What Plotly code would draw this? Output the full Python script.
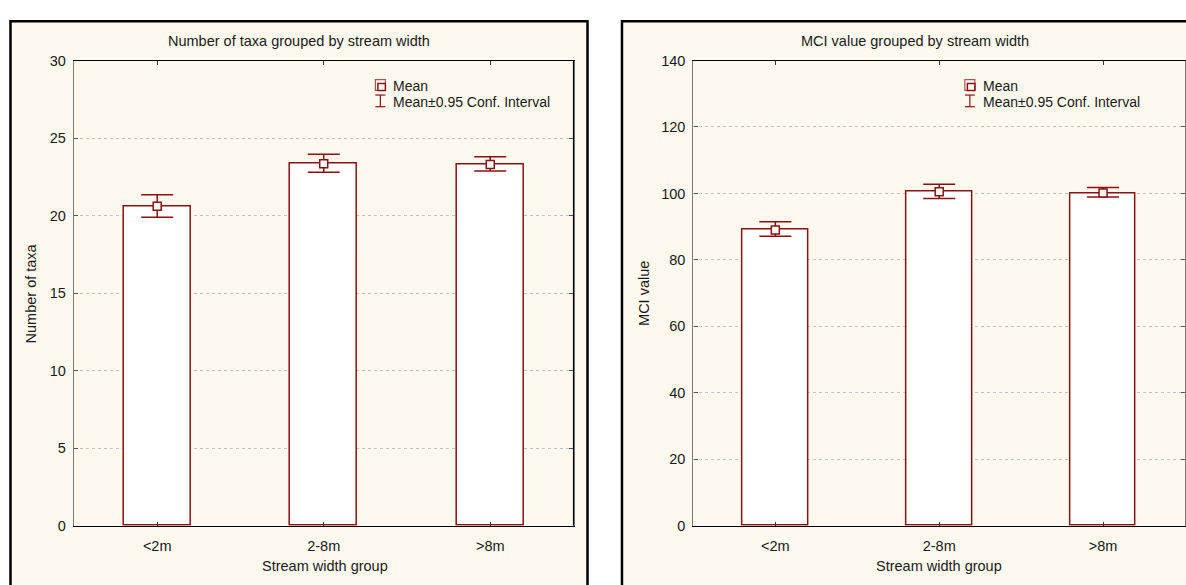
import plotly.graph_objects as go

# ---- data ----
categories = ["<2m", "2-8m", ">8m"]

taxa_mean = [20.6, 23.35, 23.3]
taxa_ci_low = [19.9, 22.8, 22.87]
taxa_ci_high = [21.35, 23.95, 23.8]

mci_mean = [89.0, 100.5, 100.1]
mci_ci_low = [87.1, 98.5, 98.9]
mci_ci_high = [91.5, 102.8, 101.8]

taxa_ticks = [0, 5, 10, 15, 20, 25, 30]
mci_ticks = [0, 20, 40, 60, 80, 100, 120, 140]

# ---- style ----
W, H = 1186, 585
MAROON = "#8b1111"
CREAM = "#fdf9ee"
FONT = "Liberation Sans, Arial, sans-serif"
TXT = "#1a1a1a"


def px(x):
    return x / W


def py(y):
    return 1 - y / H


fig = go.Figure()


def add_panel(means, lo, hi, xa, ya):
    fig.add_trace(go.Bar(
        x=categories, y=means, width=0.4, xaxis=xa, yaxis=ya,
        marker=dict(color="white", line=dict(color=MAROON, width=1.5)),
        showlegend=False, hoverinfo="skip"))
    fig.add_trace(go.Scatter(
        x=categories, y=means, mode="markers", xaxis=xa, yaxis=ya,
        marker=dict(symbol="square", size=8, color="white",
                    line=dict(color=MAROON, width=1.5)),
        error_y=dict(type="data", symmetric=False,
                     array=[h - m for h, m in zip(hi, means)],
                     arrayminus=[m - l for m, l in zip(means, lo)],
                     color=MAROON, thickness=1.5, width=16),
        showlegend=False))


add_panel(taxa_mean, taxa_ci_low, taxa_ci_high, "x", "y")
add_panel(mci_mean, mci_ci_low, mci_ci_high, "x2", "y2")

y_dom = [py(532.3), py(54)]
tickfont = dict(family=FONT, size=14.5, color=TXT)

xcommon = dict(type="category", range=[-0.5, 2.5], showline=True, linecolor="black",
               linewidth=1.2, mirror="ticks", ticks="inside", ticklen=4,
               tickcolor="#333", showgrid=False, tickfont=tickfont,
               ticklabelstandoff=7, fixedrange=True)
ycommon = dict(showline=True, linecolor="#7a7a7a", linewidth=1.2, mirror="ticks",
               ticks="inside", ticklen=4, tickcolor="#555", showgrid=True,
               gridcolor="#c4c4c4", griddash="dot", gridwidth=1, zeroline=False,
               tickfont=tickfont, ticklabelstandoff=4, fixedrange=True)

fig.update_layout(
    width=W, height=H,
    margin=dict(l=0, r=0, t=0, b=0),
    paper_bgcolor="white", plot_bgcolor="white",
    bargap=0,
    xaxis=dict(domain=[px(74), px(574)], anchor="y", **xcommon),
    yaxis=dict(domain=y_dom, anchor="x", range=[0, 30], tickvals=taxa_ticks, **ycommon),
    xaxis2=dict(domain=[px(694), 1.0], anchor="y2", **xcommon),
    yaxis2=dict(domain=y_dom, anchor="x2", range=[0, 140], tickvals=mci_ticks, **ycommon),
)

shapes = []
# cream panel frames
shapes.append(dict(type="rect", xref="paper", yref="paper", layer="below",
                   x0=px(10.5), x1=px(588), y0=-0.1, y1=py(13.5),
                   fillcolor=CREAM, line=dict(color="black", width=2.5)))
shapes.append(dict(type="rect", xref="paper", yref="paper", layer="below",
                   x0=px(622.5), x1=1.1, y0=-0.1, y1=py(13.5),
                   fillcolor=CREAM, line=dict(color="black", width=2.5)))
# right border of left plot area (black)
shapes.append(dict(type="line", xref="x domain", yref="y domain",
                   x0=1, x1=1, y0=0, y1=1, line=dict(color="black", width=1.2)))


def legend_icons(xc, yc1, yc2):
    # Mean icon (double square)
    shapes.append(dict(type="rect", xref="paper", yref="paper",
                       x0=px(xc - 5), x1=px(xc + 5), y0=py(yc1 + 5.5), y1=py(yc1 - 5.5),
                       line=dict(color="#b05050", width=1.2), fillcolor="white"))
    shapes.append(dict(type="rect", xref="paper", yref="paper",
                       x0=px(xc - 2.5), x1=px(xc + 5), y0=py(yc1 + 5.5), y1=py(yc1 - 1.5),
                       line=dict(color=MAROON, width=1.5), fillcolor="white"))
    # CI icon
    shapes.append(dict(type="line", xref="paper", yref="paper",
                       x0=px(xc), x1=px(xc), y0=py(yc2 - 6), y1=py(yc2 + 6),
                       line=dict(color=MAROON, width=1.2)))
    shapes.append(dict(type="line", xref="paper", yref="paper",
                       x0=px(xc - 5), x1=px(xc + 5), y0=py(yc2 - 6), y1=py(yc2 - 6),
                       line=dict(color=MAROON, width=1.2)))
    shapes.append(dict(type="line", xref="paper", yref="paper",
                       x0=px(xc - 5), x1=px(xc + 5), y0=py(yc2 + 6), y1=py(yc2 + 6),
                       line=dict(color=MAROON, width=1.2)))


legend_icons(380.7, 79.2, 95.5)
legend_icons(970.7, 79.2, 95.5)

fig.update_layout(shapes=shapes)

ann = []


def text(x, y, s, size=14, angle=0, xanchor="center"):
    ann.append(dict(xref="paper", yref="paper", x=px(x), y=py(y), text=s,
                    showarrow=False, xanchor=xanchor, yanchor="middle",
                    textangle=angle, font=dict(family=FONT, size=size, color=TXT)))


text(299, 34, "Number of taxa grouped by stream width", 14.5)
text(916, 34, "MCI value grouped by stream width", 14.5)
text(325.5, 574, "Stream width group", 14.5)
text(940, 574, "Stream width group", 14.5)
text(31.5, 293, "Number of taxa", 14.5, angle=-90)
text(644.5, 293, "MCI value", 14.5, angle=-90)
text(391.5, 80.5, "Mean", 14, xanchor="left")
text(391.5, 96.5, "Mean±0.95 Conf. Interval", 14, xanchor="left")
text(981.5, 80.5, "Mean", 14, xanchor="left")
text(981.5, 96.5, "Mean±0.95 Conf. Interval", 14, xanchor="left")

fig.update_layout(annotations=ann)

# remove the default 8px page margin so the figure sits at the window origin
fig.write_html(
    "out.html",
    config={"displayModeBar": False},
    post_script="document.body.style.margin='0';document.body.style.overflow='hidden';",
)
